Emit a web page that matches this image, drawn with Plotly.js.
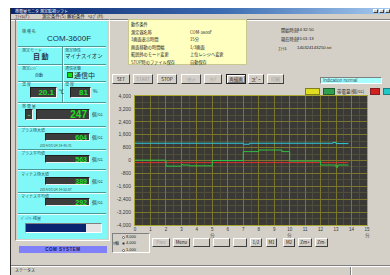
<!DOCTYPE html>
<html><head><meta charset="utf-8">
<script src="https://cdn.plot.ly/plotly-3.0.1.min.js"></script>
<style>
body{margin:0;width:390px;height:275px;overflow:hidden;background:#fff;position:relative;font-family:"Noto Sans CJK JP","DejaVu Sans",sans-serif;}
.a{position:absolute;box-sizing:border-box;}
.t{position:absolute;white-space:nowrap;line-height:1;color:#202020;}
.btn{position:absolute;box-sizing:border-box;background:#d4d0c8;border:1px solid;border-color:#fff #404040 #404040 #fff;font-size:4.5px;line-height:1;display:flex;align-items:center;justify-content:center;color:#202020;white-space:nowrap;overflow:hidden;}
.dis{color:#9a9a9a;}
.box{position:absolute;box-sizing:border-box;background:#3c3c3c;border:1px solid;border-color:#202020 #f0f0f0 #f0f0f0 #202020;color:#22e022;font-family:"Liberation Sans";font-weight:bold;display:flex;align-items:center;justify-content:flex-end;padding-right:2px;line-height:1;}
#chart{position:absolute;left:108px;top:86px;width:282px;height:154px;}
</style></head><body>
<script>
// ---- chart data ----
const greenTime = [0, 2.0, 3.0, 3.1, 3.5, 5.0, 7.0, 8.0, 9.5, 10.0, 12.0, 13.0, 13.1, 13.8];
const greenVal  = [20, -350, -250, -280, -330, 0, 550, 650, 550, -30, -280, -420, -280, -280];
const cyanTime  = [0, 7.0, 7.4, 12.8, 13.0, 13.8];
const cyanVal   = [1070, 1010, 1070, 1120, 1050, 1050];
const redTime   = [0, 5.0, 10.0, 13.8];
const redVal    = [-130, -130, -130, -130];
const xTicks    = [0,1,2,3,4,5,6,7,8,9,10,11,12,13,14,15];
const xTickText = ['0','1','2','3','4','5<br>分','6','7','8','9','10<br>分','11','12','13','14','15<br>分'];
const yTicks    = [-4000,-3200,-2400,-1600,-800,0,800,1600,2400,3200,4000];
const yTickText = ['-4,000','-3,200','-2,400','-1,600','-800','0','800','1,600','2,400','3,200','4,000'];
const tempTicks = [-20,-10,0,10,20,30,40,50];
const tempText  = ['-20℃','-10℃','0℃','10℃','20℃','30℃','40℃','50℃'];
const humTicks  = [0,10,20,30,40,50,60,70,80,90,100];
const humText   = ['0%','10%','20%','30%','40%','50%','60%','70%','80%','90%','100%'];

function el(cls,x,y,w,h,style,html){const d=document.createElement('div');d.className=cls;d.style.left=x+'px';d.style.top=y+'px';if(w!=null)d.style.width=w+'px';if(h!=null)d.style.height=h+'px';if(style)Object.assign(d.style,style);if(html!=null)d.innerHTML=html;document.body.appendChild(d);return d;}
function txt(x,cy,s,size,style){return el('t',x,cy-size/2,null,null,Object.assign({fontSize:size+'px'},style||{}),s);}
function groove(x1,x2,y,c1,c2){el('a',x1,y,x2-x1,2,{borderTop:'1px solid '+(c1||'#808080'),borderBottom:'1px solid '+(c2||'#fff')});}
function vgroove(x,y1,y2,c1,c2){el('a',x,y1,2,y2-y1,{borderLeft:'1px solid '+(c1||'#808080'),borderRight:'1px solid '+(c2||'#fff')});}
function btn(x1,x2,y1,y2,label,dis,pressed){const b=el('btn'+(dis?' dis':''),x1,y1,x2-x1,y2-y1,null,label);if(pressed){b.style.borderColor='#202020';b.style.boxShadow='inset 1px 1px 0 #fff, inset -1px -1px 0 #808080';}}

// window
el('a',10,8,385,270,{background:'#d4d0c8',borderLeft:'1px solid #303030'});
el('a',11,8,380,6,{background:'linear-gradient(90deg,#0a246a,#3a6ab0 55%,#a6caf0)'});
txt(15,11,'帯電量モニタ 測定監視ソフト',4,{color:'#fff'});
[373,379,385].forEach(x=>el('a',x,9,5,4,{background:'#d4d0c8',border:'1px solid',borderColor:'#fff #404040 #404040 #fff'}));
// menu
txt(15,15.8,'ﾌｧｲﾙ(F)',4.5);txt(42,15.8,'測定条件(S)',4.5);txt(67,15.8,'解析条件',4.5);txt(88,15.8,'ﾍﾙﾌﾟ(H)',4.5);
groove(11,390,18.5);

// left panel
el('a',15,19,95,222,{border:'1px solid',borderColor:'#808080 #fff #fff #808080'});
el('a',17,21,90,218,{background:'#80f8f8'});
const dc1='#4a9a9a',dc2='#e8ffff';
[46,64,81,102,126,149,169,192,213].forEach(y=>groove(18,106,y,dc1,dc2));
vgroove(62,47,102,dc1,dc2);
const lab={color:'#305858'};
txt(22,30.5,'機 種 名',4,lab);
txt(47,38.5,'COM-3600F',8,{fontFamily:'Liberation Sans',color:'#203040'});
txt(22,49.5,'測定モード',4,lab);
txt(33,56.5,'自 動',7,{fontWeight:'bold',color:'#203040'});
txt(65,49.5,'測定極性',4,lab);
txt(65,56.5,'マイナスイオン',5.4,{color:'#203040'});
txt(22,68,'測定ﾚﾝｼﾞ',4,lab);
txt(35,75,'自動',4,{color:'#203040'});
txt(65,68,'通信状態',4,lab);
el('a',67,72,6,6,{background:'#10e010',border:'1px solid #206020'});
txt(74,75,'通信中',7,{color:'#203040'});
txt(22,84,'温 度',4,lab);
el('box',30,87,27,11,{fontSize:'8px'},'20.1');
txt(59,90.5,'℃',5,{color:'#203040'});
txt(65,84,'湿 度',4,lab);
el('box',70,87,21,11,{fontSize:'8px'},'81');
txt(93,90.5,'%',5,{color:'#203040'});
txt(22,105.5,'帯 電 量',4,lab);
el('box',25,109,8,11,{fontSize:'8px',justifyContent:'center',padding:'0'},'-');
el('box',36,109,54,11,{fontSize:'10px'},'247');
txt(92,114.5,'個/cc',4.5,{color:'#203040'});
txt(21,130,'プラス極大値',4,lab);
el('box',45,133,45,8,{fontSize:'7px'},'604');
txt(92,137,'個/cc',4.5,{color:'#203040'});
txt(40,145.5,'2014/03/24 14:45:31',3.4,{color:'#305858'});
txt(21,153,'プラス平均値',4,lab);
el('box',45,155,45,8,{fontSize:'7px'},'563');
txt(92,159,'個/cc',4.5,{color:'#203040'});
txt(21,173.5,'マイナス極大値',4,lab);
el('box',45,177,45,8,{fontSize:'7px'},'389');
txt(92,181,'個/cc',4.5,{color:'#203040'});
txt(40,189.5,'2014/03/24 14:52:07',3.4,{color:'#305858'});
txt(21,195.5,'マイナス平均値',4,lab);
el('box',45,198,45,8,{fontSize:'7px'},'292');
txt(92,202,'個/cc',4.5,{color:'#203040'});
txt(21,217.5,'ﾊﾞｯﾃﾘｰ残量',4,lab);
el('a',25,223,77,10,{background:'#e4e4e4',border:'1px solid',borderColor:'#808080 #fff #fff #808080'});
el('a',26,224,60,8,{background:'#0a2470'});
el('a',19,246,88,7,{background:'#8080f8',color:'#101860',fontSize:'4.5px',fontWeight:'bold',display:'flex',alignItems:'center',justifyContent:'center',fontFamily:'Liberation Sans',letterSpacing:'0.5px'},'COM SYSTEM');

// status bar
groove(11,390,265);
txt(15,270,'ステータス',4);
vgroove(350,267,275);

// info panel (yellow)
el('a',128,19,119,46,{background:'#ffffc0',border:'1px solid #c8c890'});
const iy=[31.7,39.3,46.7,54.3,61.7];
const il=['測定器名称','1画面表示時間','画面移動の時間幅','範囲外のモード変更','STOP時のファイル保存'];
const iv=['COM-3600F','15分','1/3画面','上位レンジへ変更','自動保存'];
txt(131,24,'動作条件',4.2);
il.forEach((s,i)=>txt(131,iy[i],s,4.2));
iv.forEach((s,i)=>txt(190,iy[i],s,4.2));
// right info
txt(281,30,'開始時刻',4.3);txt(297,30,'14:32:50',4.3,{fontFamily:'Liberation Sans'});
txt(281,39.5,'現在時刻',4.3);txt(297,39.5,'15:01:13',4.3,{fontFamily:'Liberation Sans'});
txt(278,48.5,'ﾌｧｲﾙ',4.3);txt(297,48.5,'140324143250.txt',4.3,{fontFamily:'Liberation Sans'});

// top buttons
btn(112,130,74,84,'SET');btn(133,153,74,84,'START',true);btn(157,177,74,84,'STOP');
btn(181,201,74,84,'ﾘｾｯﾄ',true);btn(204,222,74,84,'ｸﾘｱ',true);btn(226,246,74,84,'再描画',false,true);
btn(248,264,74,84,'ｺﾋﾟｰ');btn(267,284,74,84,'印刷',true);
el('a',320,77,62,7,{background:'#a8ffff',border:'1px solid',borderColor:'#808080 #fff #fff #808080',fontSize:'4.5px',color:'#305060',lineHeight:'5px',paddingLeft:'2px',fontFamily:'Liberation Sans'},'Indication normal');

// bottom controls (drawn before the chart so axis labels sit on top)
el('a',112,233,38,20,{border:'1px solid',borderColor:'#808080 #fff #fff #808080'});
txt(113,243,'Y軸',4);
[[237,'8,000',false],[243,'4,000',true],[250,'1,000',false]].forEach(r=>{
 el('a',121.5,r[0]-1.5,3.5,3.5,{background:'#fff',border:'0.5px solid #606060',borderRadius:'50%'});
 if(r[2]) el('a',122.5,r[0]-0.5,1.5,1.5,{background:'#000',borderRadius:'50%'});
 txt(126,r[0],r[1],4,{fontFamily:'Liberation Sans'});
});
btn(152,170,238,247,'Prev',true);btn(173,190,238,247,'Menu');btn(193,210,238,247,'',true);
btn(213,230,238,247,'',true);btn(233,247,238,247,'',true);btn(250,262,238,247,'1/2');
btn(266,277,238,247,'M1');btn(283,295,238,247,'M2');btn(298,312,238,247,'Zm+');btn(315,328,238,247,'Zm-');

// chart
const cd=el('a',108,86,282,154,null,null);cd.id='chart';
const gridMaj='#7a762e', gridMin='#4f4e39';
const traces=[
 {x:redTime,y:redVal,name:'温度',mode:'lines',line:{color:'#d83030',width:1,shape:'hv'}},
 {x:cyanTime,y:cyanVal,name:'湿度',mode:'lines',line:{color:'#30c8d8',width:1,shape:'hv'}},
 {x:greenTime,y:greenVal,name:'帯電量(個/cc)',mode:'lines',line:{color:'#30c040',width:1,shape:'hv'}}
];
const layout={
 width:282,height:154,margin:{l:27,r:0,t:10,b:15},
 paper_bgcolor:'rgba(0,0,0,0)',plot_bgcolor:'#3a3935',showlegend:false,
 font:{family:'Liberation Sans',size:5,color:'#383838'},
 xaxis:{domain:[0,232/255],range:[0,15],tickmode:'array',tickvals:xTicks,ticktext:xTickText,
   showgrid:true,gridcolor:gridMaj,gridwidth:1,zeroline:false,showline:true,linecolor:'#a8a430',mirror:true,
   ticks:'',ticklabelstandoff:0,tickfont:{size:4.5},
   minor:{tickmode:'linear',tick0:0,dtick:0.5,showgrid:true,gridcolor:gridMin,gridwidth:1}},
 yaxis:{range:[-4000,4000],tickmode:'array',tickvals:yTicks,ticktext:yTickText,
   showgrid:true,gridcolor:gridMaj,gridwidth:1,zeroline:false,showline:true,linecolor:'#a8a430',mirror:true,
   ticks:'',ticklabelstandoff:2,tickfont:{size:5},
   minor:{tickmode:'linear',tick0:0,dtick:400,showgrid:true,gridcolor:gridMin,gridwidth:1}},
 yaxis2:{overlaying:'y',side:'right',anchor:'x',range:[-20,80],tickmode:'array',tickvals:tempTicks,ticktext:tempText,
   showgrid:false,zeroline:false,showline:false,ticks:'',ticklabelstandoff:4,tickfont:{size:4.5}},
 yaxis3:{overlaying:'y',side:'right',anchor:'free',position:0.963,range:[0,100],tickmode:'array',tickvals:humTicks,ticktext:humText,
   showgrid:false,zeroline:false,showline:false,ticks:'',ticklabelstandoff:1,tickfont:{size:4.5}}
};
Plotly.newPlot('chart',traces,layout,{staticPlot:true,displayModeBar:false});

// legend strip
el('a',305,88,15,7,{background:'#e0dc20',border:'1px solid #808020'});
el('a',323,88,12,7,{background:'#30a050',border:'1px solid #206030'});
txt(337,91.5,'帯電量(個/cc)',4.5);
el('a',370,88,10,7,{background:'#d02020',border:'1px solid #802020'});
el('a',383,88,10,7,{background:'#20c8c8',border:'1px solid #208080'});
</script>
</body></html>
